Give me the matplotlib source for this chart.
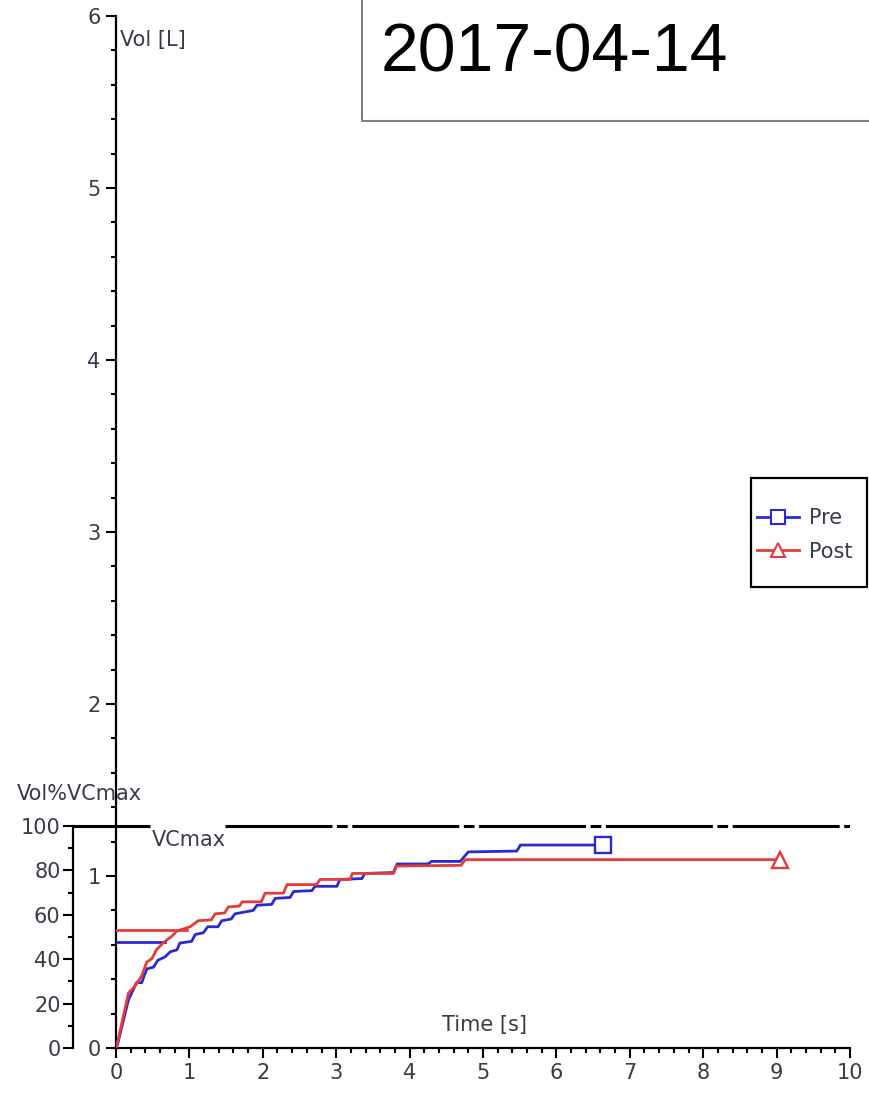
import numpy as np
import matplotlib.pyplot as plt
from matplotlib.lines import Line2D
from matplotlib.ticker import MultipleLocator

# ------------------------------------------------------------
# data (time [s], volume [L])
# ------------------------------------------------------------
pre_t = [0.0, 0.02, 0.17, 0.28, 0.35, 0.42, 0.51, 0.57, 0.67, 0.74, 0.83, 0.87,
         1.03, 1.08, 1.19, 1.25, 1.39, 1.44, 1.57, 1.62, 1.87, 1.92, 2.12, 2.17,
         2.37, 2.42, 2.67, 2.71, 3.01, 3.05, 3.35, 3.39, 3.78, 3.83, 4.25, 4.30,
         4.69, 4.80, 5.46, 5.51, 6.64]
pre_v = [0.0, 0.02, 0.28, 0.38, 0.38, 0.46, 0.47, 0.51, 0.53, 0.56, 0.57, 0.61,
         0.62, 0.66, 0.67, 0.705, 0.705, 0.74, 0.75, 0.78, 0.80, 0.83, 0.835, 0.87,
         0.875, 0.91, 0.915, 0.94, 0.94, 0.98, 0.985, 1.015, 1.02, 1.07, 1.07, 1.085,
         1.085, 1.14, 1.145, 1.18, 1.18]

post_t = [0.0, 0.02, 0.17, 0.26, 0.35, 0.42, 0.49, 0.55, 0.64, 0.76, 0.83, 1.01,
          1.12, 1.30, 1.35, 1.48, 1.53, 1.68, 1.72, 1.98, 2.03, 2.28, 2.33, 2.73,
          2.78, 3.19, 3.22, 3.78, 3.82, 4.70, 4.76, 9.05]
post_v = [0.0, 0.03, 0.32, 0.36, 0.42, 0.50, 0.52, 0.57, 0.61, 0.65, 0.68, 0.705,
          0.74, 0.745, 0.78, 0.785, 0.82, 0.825, 0.85, 0.85, 0.90, 0.90, 0.95, 0.95,
          0.98, 0.98, 1.015, 1.015, 1.058, 1.062, 1.095, 1.095]

# horizontal start levels (volume, end time)
pre_start = (0.616, 0.67)
post_start = (0.686, 0.97)

vcmax = 1.29  # litres that equal 100 %
series_labels = ["Pre", "Post"]
date_text = "2017-04-14"

BLUE = "#2a2ad2"
RED = "#e63a3a"
TXT = "#3a3a48"
FS = 15

W, H = 870, 1104
fig = plt.figure(figsize=(W / 100, H / 100), dpi=100)
plt.rcParams["font.family"] = "DejaVu Sans"

ax = fig.add_axes([116 / W, 56 / H, 734 / W, 1032 / H])
ax.set_xlim(0, 10)
ax.set_ylim(0, 6)
for s in ["top", "right"]:
    ax.spines[s].set_visible(False)
for s in ["left", "bottom"]:
    ax.spines[s].set_linewidth(1.6)

ax.xaxis.set_major_locator(MultipleLocator(1))
ax.xaxis.set_minor_locator(MultipleLocator(0.2))
ax.yaxis.set_major_locator(MultipleLocator(1))
ax.yaxis.set_minor_locator(MultipleLocator(0.2))
ax.tick_params(which="major", length=7, width=1.5, direction="out",
               labelsize=FS, labelcolor=TXT, pad=4)
ax.tick_params(which="minor", length=3.5, width=1.5, direction="out")

# curves
ax.plot(pre_t, pre_v, color=BLUE, lw=2.0, zorder=3)
ax.plot(post_t, post_v, color=RED, lw=2.0, zorder=4)
ax.plot([0, pre_start[1]], [pre_start[0]] * 2, color=BLUE, lw=2.0, zorder=3)
ax.plot([0, post_start[1]], [post_start[0]] * 2, color=RED, lw=2.0, zorder=4)
ax.plot(pre_t[-1], pre_v[-1], marker="s", ms=12, mfc="white", mec=BLUE, mew=1.7, zorder=5)
ax.plot(post_t[-1], post_v[-1], marker="^", ms=12, mfc="white", mec=RED, mew=1.7, zorder=5)

# VCmax line
ax.plot([-0.59, 0.46], [vcmax, vcmax], color="black", lw=2.2, clip_on=False,
        solid_capstyle="butt")
ax.plot([1.49, 10], [vcmax, vcmax], color="black", lw=2.2,
        dashes=(35, 1.5, 3.5, 1.5), solid_capstyle="butt", dash_capstyle="butt")
ax.text(0.49, vcmax - 0.02, "VCmax", fontsize=FS, color=TXT, va="top", ha="left")

# secondary percentage axis
ax2 = ax.twinx()
ax2.set_ylim(0, 100 * 6 / vcmax)
for s in ["top", "right", "bottom"]:
    ax2.spines[s].set_visible(False)
ax2.spines["left"].set_visible(True)
ax2.spines["left"].set_position(("outward", 43 * 0.72))
ax2.spines["left"].set_bounds(0, 100)
ax2.spines["left"].set_linewidth(1.6)
ax2.yaxis.set_ticks_position("left")
ax2.set_yticks(np.arange(0, 101, 20))
ax2.set_yticks(np.arange(0, 101, 10), minor=True)
ax2.tick_params(which="major", length=7, width=1.5, labelsize=FS, labelcolor=TXT, pad=2)
ax2.tick_params(which="minor", length=3.5, width=1.5)

# axis titles
fig.text(120 / W, 1 - 40 / H, "Vol [L]", fontsize=FS, color=TXT, va="center", ha="left")
fig.text(17 / W, 1 - 794 / H, "Vol%VCmax", fontsize=FS, color=TXT, va="center", ha="left")
fig.text(485 / W, 1 - 1025 / H, "Time [s]", fontsize=FS, color=TXT, va="center", ha="center")

# legend with square frame
fig.add_artist(plt.Rectangle((751 / W, 1 - 587 / H), 116 / W, 109 / H,
                             transform=fig.transFigure, fill=False,
                             edgecolor="black", lw=1.6))
handles = [Line2D([], [], color=BLUE, lw=2.0, marker="s", ms=10, mfc="white", mec=BLUE, mew=1.5),
           Line2D([], [], color=RED, lw=2.0, marker="^", ms=10, mfc="white", mec=RED, mew=1.5)]
fig.legend(handles, series_labels, loc="center left",
           bbox_to_anchor=(757 / W, 1 - 535 / H), frameon=False,
           fontsize=FS, handlelength=2.0, handletextpad=0.5,
           labelspacing=0.65, borderpad=0, borderaxespad=0, labelcolor=TXT)

# date box
fig.add_artist(Line2D([362 / W, 362 / W, 1.0], [1.0, 1 - 121 / H, 1 - 121 / H],
                      transform=fig.transFigure, color="#808080", lw=1.5))
fig.text(381 / W, 1 - 72 / H, date_text, fontsize=49, family="Liberation Sans",
         color="black", va="baseline", ha="left")

fig.savefig("out.png", dpi=100)
